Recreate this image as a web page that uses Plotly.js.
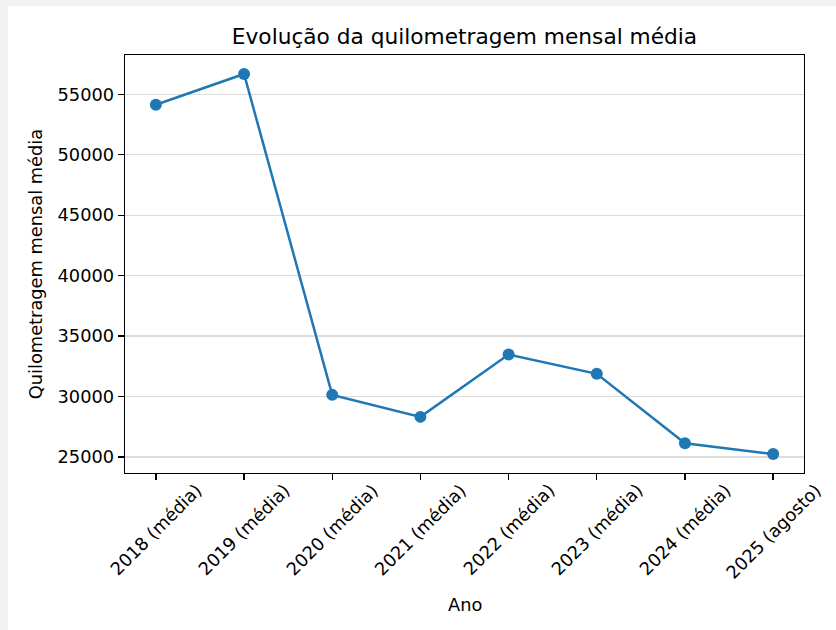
<!DOCTYPE html>
<html>
<head>
<meta charset="utf-8">
<script src="https://cdn.plot.ly/plotly-3.0.1.min.js"></script>
<style>
  html, body { margin: 0; padding: 0; background: #f2f2f2; width: 836px; height: 630px; overflow: hidden; }
  #chart { position: absolute; left: 8px; top: 6px; width: 828px; height: 624px; background: #ffffff; }
</style>
</head>
<body>
<div id="chart"></div>
<script>
const categories = ["2018 (média)", "2019 (média)", "2020 (média)", "2021 (média)", "2022 (média)", "2023 (média)", "2024 (média)", "2025 (agosto)"];
const kmMensal = [54140, 56680, 30140, 28320, 33480, 31880, 26130, 25250];
const yTicks = [25000, 30000, 35000, 40000, 45000, 50000, 55000];
const xTitle = "Ano";
const yTitle = "Quilometragem mensal média";
const chartTitle = "Evolução da quilometragem mensal média";

const font = "DejaVu Sans, sans-serif";
const xIdx = categories.map((_, i) => i);

const trace = {
  x: xIdx,
  y: kmMensal,
  type: "scatter",
  mode: "lines+markers",
  line: { color: "#1f77b4", width: 2.5 },
  marker: { color: "#1f77b4", size: 12 },
  hoverinfo: "skip"
};

const annotations = categories.map((c, i) => ({
  x: i, xref: "x", y: 0, yref: "paper",
  text: c, showarrow: false, textangle: -45,
  xanchor: "center", yanchor: "top", yshift: -4,
  font: { family: font, size: 17.8, color: "#000000" }
}));
annotations.push({
  x: 0.5, xref: "paper", y: 0, yref: "paper",
  text: xTitle, showarrow: false,
  xanchor: "center", yanchor: "middle", yshift: -131,
  font: { family: font, size: 17.8, color: "#000000" }
});

const layout = {
  width: 828, height: 624,
  paper_bgcolor: "#ffffff", plot_bgcolor: "#ffffff",
  margin: { l: 117, r: 32, t: 49, b: 157 },
  showlegend: false,
  title: {
    text: chartTitle,
    font: { family: font, size: 21.7, color: "#000000" },
    x: 0.5, xref: "paper", xanchor: "center",
    y: 1, yref: "paper", yanchor: "bottom", pad: { b: 11 }
  },
  xaxis: {
    range: [-0.35, 7.35],
    tickmode: "array", tickvals: xIdx, ticktext: categories,
    showticklabels: false,
    ticks: "outside", ticklen: 6, tickwidth: 1.3, tickcolor: "#000000",
    showgrid: false, zeroline: false,
    showline: true, linecolor: "#000000", linewidth: 1.3, mirror: true
  },
  yaxis: {
    range: [23678, 58251],
    tickmode: "array", tickvals: yTicks, ticktext: yTicks.map(String),
    ticks: "outside", ticklen: 6, tickwidth: 1.3, tickcolor: "#000000",
    tickfont: { family: font, size: 17.8, color: "#000000" },
    showgrid: true, gridcolor: "#dcdcdc", gridwidth: 1.3,
    zeroline: false,
    showline: true, linecolor: "#000000", linewidth: 1.3, mirror: true,
    title: { text: yTitle, font: { family: font, size: 17.8, color: "#000000" }, standoff: 10 }
  },
  annotations: annotations
};

Plotly.newPlot("chart", [trace], layout, { displayModeBar: false, staticPlot: true });
</script>
</body>
</html>
